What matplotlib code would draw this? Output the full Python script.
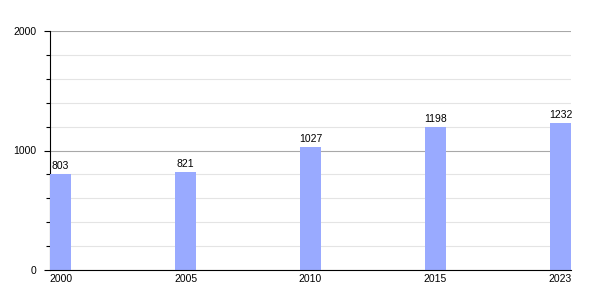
import matplotlib.pyplot as plt
from matplotlib.ticker import MultipleLocator

plt.rcParams['font.family'] = ['Liberation Sans', 'DejaVu Sans']

# dados
anos = ['2000', '2005', '2010', '2015', '2023']
valores = [803, 821, 1027, 1198, 1232]

fig = plt.figure(figsize=(6, 3), dpi=100)
ax = fig.add_axes([50 / 600, 30 / 300, 521 / 600, 239 / 300])

pos = range(len(anos))
ax.bar(pos, valores, width=0.168, color='#99aaff', zorder=3)
for p, v in zip(pos, valores):
    ax.text(p, v + 25, str(v), ha='center', va='bottom', fontsize=7.5, zorder=4)

ax.set_xlim(-0.084, 4.084)
ax.set_ylim(0, 2000)
ax.set_xticks(list(pos))
ax.set_xticklabels(anos, fontsize=7.5)
ax.yaxis.set_major_locator(MultipleLocator(1000))
ax.yaxis.set_minor_locator(MultipleLocator(200))
ax.tick_params(axis='y', which='major', labelsize=7.5, length=4, width=0.8, pad=6)
ax.tick_params(axis='y', which='minor', length=3, width=0.8)
ax.tick_params(axis='x', length=0, labelsize=7.5, pad=3)

ax.grid(True, axis='y', which='minor', color='#e4e4e4', linewidth=0.8, zorder=0)
ax.grid(True, axis='y', which='major', color='#a8a8a8', linewidth=0.8, zorder=1)

for s in ['top', 'right']:
    ax.spines[s].set_visible(False)
ax.spines['left'].set_linewidth(0.8)
ax.spines['bottom'].set_linewidth(0.8)
ax.spines['bottom'].set_zorder(5)

fig.savefig('out.png', dpi=100)
